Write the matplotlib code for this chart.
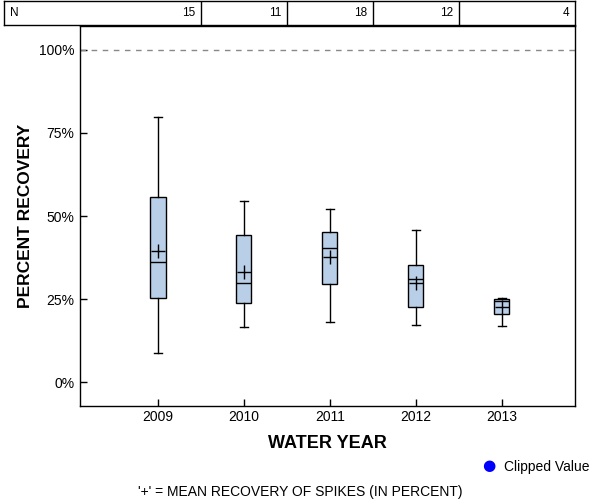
import matplotlib
matplotlib.use("Agg")
import matplotlib.pyplot as plt

plt.rcParams['font.family'] = ['Liberation Sans', 'DejaVu Sans']

# data
years = [2009, 2010, 2011, 2012, 2013]
n_counts = [15, 11, 18, 12, 4]
whisker_lo = [8.9, 16.5, 18.0, 17.1, 16.9]
q1 = [25.2, 23.8, 29.4, 22.5, 20.4]
medians = [36.3, 29.8, 40.3, 30.9, 24.3]
q3 = [55.8, 44.4, 45.3, 35.3, 25.1]
whisker_hi = [79.7, 54.4, 52.2, 45.7, 25.4]
means = [39.5, 33.0, 37.8, 29.8, 22.6]

fig = plt.figure(figsize=(6, 5), dpi=100)
W, H = 600, 500
ax_l, ax_r, ax_t, ax_b = 80, 575, 26, 406
ax = fig.add_axes([ax_l / W, 1 - ax_b / H, (ax_r - ax_l) / W, (ax_b - ax_t) / H])

stats = []
for i in range(len(years)):
    stats.append(dict(whislo=whisker_lo[i], q1=q1[i], med=medians[i], q3=q3[i],
                      whishi=whisker_hi[i], mean=means[i], fliers=[]))

ax.bxp(stats, positions=years, widths=0.175, capwidths=0.085, showmeans=True,
       patch_artist=True,
       boxprops=dict(facecolor='#B9CFE7', edgecolor='black', linewidth=1),
       medianprops=dict(color='black', linewidth=1),
       whiskerprops=dict(color='black', linewidth=1),
       capprops=dict(color='black', linewidth=1),
       meanprops=dict(marker='+', markersize=10, markeredgecolor='black',
                      markeredgewidth=1))

ax.axhline(100, color='#888888', linestyle=(0, (4, 4)), linewidth=1)

x0, x1 = 2008.093, 2013.85
ax.set_xlim(x0, x1)
ax.set_ylim(-7.2, 107.2)
ax.set_xticks(years)
ax.set_xticklabels([str(y) for y in years])
ax.set_yticks([0, 25, 50, 75, 100])
ax.set_yticklabels(['0%', '25%', '50%', '75%', '100%'])
ax.tick_params(direction='in', length=5, width=1, labelsize=10)
ax.tick_params(axis='x', pad=3)
ax.tick_params(axis='y', pad=4)
for s in ax.spines.values():
    s.set_linewidth(1)

ax.set_xlabel('WATER YEAR', fontsize=13, fontweight='bold', labelpad=8)
ax.set_ylabel('PERCENT RECOVERY', fontsize=12.5, fontweight='bold', labelpad=4)

# N table on top
tab_l, tab_t, tab_b = 4, 1, 25
tax = fig.add_axes([tab_l / W, 1 - tab_b / H, (ax_r - tab_l) / W, (tab_b - tab_t) / H])
px_per = (ax_r - ax_l) / (x1 - x0)
t0 = x0 - (ax_l - tab_l) / px_per
tax.set_xlim(t0, x1)
tax.set_ylim(0, 1)
tax.set_xticks([])
tax.set_yticks([])
for s in tax.spines.values():
    s.set_linewidth(1)
for y in years[:-1]:
    tax.axvline(y + 0.5, color='black', linewidth=1)
tax.text(t0 + 6 / px_per, 0.5, 'N', ha='left', va='center', fontsize=8.5)
for i, y in enumerate(years):
    right = y + 0.5 if i < len(years) - 1 else x1
    tax.text(right - 6 / px_per, 0.5, str(n_counts[i]), ha='right', va='center',
             fontsize=8.5)

# legend and footnote
fig.text(489 / W, 1 - 466 / H, '\u25CF', color='blue', fontsize=11,
         ha='center', va='center', family=['DejaVu Sans'])
fig.text(504 / W, 1 - 467 / H, 'Clipped Value', fontsize=10, ha='left', va='center')
fig.text(300 / W, 1 - 492 / H, "'+' = MEAN RECOVERY OF SPIKES (IN PERCENT)",
         fontsize=10, ha='center', va='center')

fig.savefig('out.png', dpi=100)
